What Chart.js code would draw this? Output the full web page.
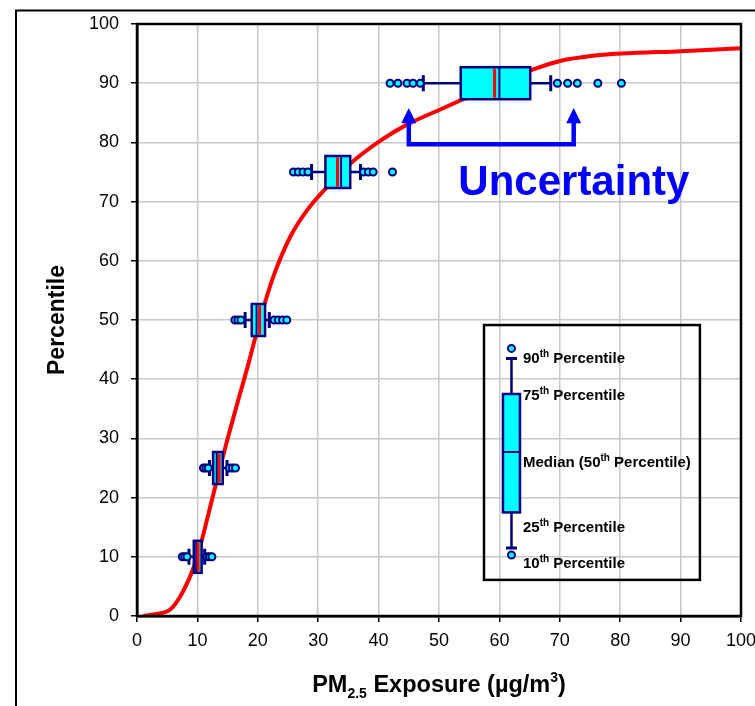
<!DOCTYPE html>
<html><head><meta charset="utf-8">
<script src="https://cdn.jsdelivr.net/npm/chart.js@4.4.1/dist/chart.umd.min.js"></script>
<style>html,body{margin:0;padding:0;background:#fff;}#wrap{width:755px;height:706px;position:relative;}canvas{display:block;}</style>
</head><body><div id="wrap"><canvas id="c" width="755" height="706" style="width:755px;height:706px"></canvas></div>
<script>
// ---------- data ----------
const xTickValues = [0,10,20,30,40,50,60,70,80,90,100];
const yTickValues = [0,10,20,30,40,50,60,70,80,90,100];

// red cumulative curve (PM2.5 exposure vs percentile)
const curveX = [1, 3, 5.5, 7.1, 9.0, 10.0, 12.7, 14.6, 16.8, 18.5, 20.3, 22.6, 25.4, 28.2, 31.5, 35.3, 40.3, 44.7, 50.3, 54.0, 59.5, 65.5, 70.2, 75.2, 80.2, 90.1, 100];
const curveY = [0, 0.3, 1.1, 3.2, 7.2, 10.1, 20.8, 28.4, 36.6, 42.8, 49.8, 57.4, 64.1, 68.6, 72.5, 76.4, 80.3, 83.0, 85.6, 87.3, 89.9, 92.3, 93.8, 94.6, 95.0, 95.4, 95.9];

// uncertainty box plots at each percentile
const percentiles  = [10, 25, 50, 75, 90];
const whiskerLow   = [8.6, 12.0, 17.9, 28.9, 47.4];
const q1           = [9.4, 12.6, 19.0, 31.2, 53.6];
const boxMid       = [9.8, 13.2, 19.8, 33.8, 60.0];
const medianRed    = [10.1, 13.6, 20.3, 33.2, 59.2];
const q3           = [10.7, 14.2, 21.2, 35.3, 65.1];
const whiskerHigh  = [11.2, 14.9, 21.9, 37.0, 68.5];
const outliersLow  = [[7.5, 7.9, 8.3], [11.0, 11.4, 11.8], [16.2, 16.7, 17.2], [25.9, 26.7, 27.5, 28.3], [41.9, 43.2, 44.7, 45.7, 46.9]];
const outliersHigh = [[11.6, 12.0, 12.4], [15.3, 15.8, 16.3], [22.7, 23.4, 24.1, 24.8], [37.5, 38.3, 39.1, 42.3], [69.6, 71.3, 72.9, 76.3, 80.2]];

// key (legend) box plot
const keyX = 62.0;
const keyStats = [11.5, 17.5, 27.7, 37.5, 43.5]; // low whisker, q1, median, q3, high whisker
const keyOutliers = [10.3, 45.2];
const keyLabels = [
  {pre: '90', sup: 'th', post: ' Percentile', y: 42.7},
  {pre: '75', sup: 'th', post: ' Percentile', y: 36.5},
  {pre: 'Median (50', sup: 'th', post: ' Percentile)', y: 25.2},
  {pre: '25', sup: 'th', post: ' Percentile', y: 14.2},
  {pre: '10', sup: 'th', post: ' Percentile', y: 8.1}
];
const keyFrame = {x0: 57.45, x1: 93.2, y0: 6.1, y1: 49.15};

// uncertainty bracket annotation
const bracketX = [45.0, 72.3];
const bracketY = 79.7, bracketTop = 83.4, bracketTip = 85.8;
const uncertaintyLabel = {text: 'Uncertainty', x: 53.2, y: 71.1};

// ---------- styles ----------
const FONT = '"Liberation Sans", Arial, Helvetica, sans-serif';
const NAVY = '#000080', CYAN = '#00FFFF', RED = '#FF0000', BLUE = '#0000FF';

const outlierPts = [];
percentiles.forEach((p, i) => {
  outliersLow[i].forEach(v => outlierPts.push({x: v, y: p}));
  outliersHigh[i].forEach(v => outlierPts.push({x: v, y: p}));
});
const keyOutlierPts = keyOutliers.map(v => ({x: keyX, y: v}));
const curvePts = curveX.map((x, i) => ({x, y: curveY[i]}));

function richText(ctx, parts, x, y, align) {
  let total = 0;
  parts.forEach(p => { ctx.font = 'bold ' + p.size + 'px ' + FONT; p.w = ctx.measureText(p.t).width; total += p.w; });
  let cx = align === 'center' ? x - total / 2 : x;
  ctx.textAlign = 'left';
  ctx.textBaseline = 'alphabetic';
  parts.forEach(p => { ctx.font = 'bold ' + p.size + 'px ' + FONT; ctx.fillText(p.t, cx, y + (p.dy || 0)); cx += p.w; });
}

const drawPlugin = {
  id: 'drawExtras',
  beforeDraw(chart) {
    const ctx = chart.ctx;
    ctx.save();
    ctx.fillStyle = '#fff';
    ctx.fillRect(0, 0, chart.width, chart.height);
    ctx.strokeStyle = '#000';
    ctx.lineWidth = 2;
    ctx.strokeRect(16, 10.5, 800, 800);
    ctx.restore();
  },
  afterDatasetDraw(chart, args) {
    if (args.index !== 2) return;
    const ctx = chart.ctx;
    const sx = chart.scales.x, sy = chart.scales.y;
    const px = v => sx.getPixelForValue(v), py = v => sy.getPixelForValue(v);
    ctx.save();
    percentiles.forEach((p, i) => {
      const yc = py(p), h = 16;
      ctx.strokeStyle = NAVY; ctx.lineWidth = 2.5; ctx.lineCap = 'butt';
      ctx.beginPath();
      ctx.moveTo(px(whiskerLow[i]), yc); ctx.lineTo(px(q1[i]), yc);
      ctx.moveTo(px(q3[i]), yc); ctx.lineTo(px(whiskerHigh[i]), yc);
      ctx.stroke();
      ctx.lineWidth = 3;
      ctx.beginPath();
      ctx.moveTo(px(whiskerLow[i]), yc - 8); ctx.lineTo(px(whiskerLow[i]), yc + 8);
      ctx.moveTo(px(whiskerHigh[i]), yc - 8); ctx.lineTo(px(whiskerHigh[i]), yc + 8);
      ctx.stroke();
      const x0 = px(q1[i]), x1 = px(q3[i]);
      ctx.fillStyle = CYAN;
      ctx.fillRect(x0, yc - h, x1 - x0, 2 * h);
      ctx.lineWidth = 2.5; ctx.strokeStyle = NAVY;
      ctx.strokeRect(x0, yc - h, x1 - x0, 2 * h);
      ctx.lineWidth = 2;
      ctx.beginPath(); ctx.moveTo(px(boxMid[i]), yc - h); ctx.lineTo(px(boxMid[i]), yc + h); ctx.stroke();
      ctx.strokeStyle = RED; ctx.lineWidth = 3;
      ctx.beginPath(); ctx.moveTo(px(medianRed[i]), yc - h + 1.5); ctx.lineTo(px(medianRed[i]), yc + h - 1.5); ctx.stroke();
    });
    ctx.strokeStyle = '#000'; ctx.lineWidth = 2.5;
    ctx.strokeRect(px(keyFrame.x0), py(keyFrame.y1), px(keyFrame.x1) - px(keyFrame.x0), py(keyFrame.y0) - py(keyFrame.y1));
    const kx = px(keyX), bw = 8.5, cw = 5.5;
    ctx.strokeStyle = NAVY; ctx.lineWidth = 2.5;
    ctx.beginPath();
    ctx.moveTo(kx, py(keyStats[0])); ctx.lineTo(kx, py(keyStats[1]));
    ctx.moveTo(kx, py(keyStats[3])); ctx.lineTo(kx, py(keyStats[4]));
    ctx.stroke();
    ctx.lineWidth = 3;
    ctx.beginPath();
    ctx.moveTo(kx - cw, py(keyStats[0])); ctx.lineTo(kx + cw, py(keyStats[0]));
    ctx.moveTo(kx - cw, py(keyStats[4])); ctx.lineTo(kx + cw, py(keyStats[4]));
    ctx.stroke();
    ctx.fillStyle = CYAN;
    const ky0 = py(keyStats[3]), ky1 = py(keyStats[1]);
    ctx.fillRect(kx - bw, ky0, 2 * bw, ky1 - ky0);
    ctx.lineWidth = 2.5;
    ctx.strokeRect(kx - bw, ky0, 2 * bw, ky1 - ky0);
    ctx.lineWidth = 2;
    ctx.beginPath(); ctx.moveTo(kx - bw, py(keyStats[2])); ctx.lineTo(kx + bw, py(keyStats[2])); ctx.stroke();
    ctx.fillStyle = '#000';
    keyLabels.forEach(l => {
      richText(ctx, [{t: l.pre, size: 15}, {t: l.sup, size: 10, dy: -6}, {t: l.post, size: 15}], kx + 11.5, py(l.y), 'left');
    });
    ctx.strokeStyle = BLUE; ctx.fillStyle = BLUE; ctx.lineWidth = 4.5; ctx.lineJoin = 'miter';
    ctx.beginPath();
    ctx.moveTo(px(bracketX[0]), py(bracketTop));
    ctx.lineTo(px(bracketX[0]), py(bracketY));
    ctx.lineTo(px(bracketX[1]), py(bracketY));
    ctx.lineTo(px(bracketX[1]), py(bracketTop));
    ctx.stroke();
    bracketX.forEach(bx => {
      const xx = px(bx);
      ctx.beginPath();
      ctx.moveTo(xx, py(bracketTip));
      ctx.lineTo(xx - 7.5, py(bracketTop) + 1);
      ctx.lineTo(xx + 7.5, py(bracketTop) + 1);
      ctx.closePath(); ctx.fill();
    });
    ctx.font = 'bold 42px ' + FONT;
    ctx.textAlign = 'left'; ctx.textBaseline = 'alphabetic';
    ctx.fillText(uncertaintyLabel.text, px(uncertaintyLabel.x), py(uncertaintyLabel.y));
    ctx.restore();
  },
  afterDraw(chart) {
    const ctx = chart.ctx, a = chart.chartArea;
    ctx.save();
    ctx.strokeStyle = '#000'; ctx.lineWidth = 2.5;
    ctx.strokeRect(a.left, a.top, a.right - a.left, a.bottom - a.top);
    ctx.fillStyle = '#000';
    ctx.save();
    ctx.translate(58, (a.top + a.bottom) / 2);
    ctx.rotate(-Math.PI / 2);
    ctx.font = 'bold 23px ' + FONT; ctx.textAlign = 'center'; ctx.textBaseline = 'middle';
    ctx.fillText('Percentile', 0, 0);
    ctx.restore();
    richText(ctx, [
      {t: 'PM', size: 23.5}, {t: '2.5', size: 14, dy: 6}, {t: ' Exposure (µg/m', size: 23.5},
      {t: '3', size: 14, dy: -10}, {t: ')', size: 23.5}
    ], (a.left + a.right) / 2, 692, 'center');
    ctx.restore();
  }
};

new Chart(document.getElementById('c'), {
  type: 'scatter',
  data: {
    datasets: [
      {label: 'outliers', data: outlierPts, pointRadius: 3.5, pointHoverRadius: 3.5, pointBackgroundColor: CYAN, pointBorderColor: NAVY, pointBorderWidth: 2, showLine: false},
      {label: 'key outliers', data: keyOutlierPts, pointRadius: 3.5, pointHoverRadius: 3.5, pointBackgroundColor: CYAN, pointBorderColor: NAVY, pointBorderWidth: 2, showLine: false},
      {label: 'curve', data: curvePts, showLine: true, borderColor: RED, borderWidth: 4, pointRadius: 0, cubicInterpolationMode: 'monotone', fill: false}
    ]
  },
  options: {
    responsive: false,
    maintainAspectRatio: false,
    animation: false,
    devicePixelRatio: 1,
    layout: {padding: {left: 15, top: 24, right: 14, bottom: 0}},
    plugins: {legend: {display: false}, tooltip: {enabled: false}},
    events: [],
    scales: {
      x: {
        type: 'linear', min: 0, max: 100,
        afterBuildTicks: s => { s.ticks = xTickValues.map(v => ({value: v})); },
        afterFit: s => { s.height = 90; s.paddingLeft = 0; s.paddingRight = 0; },
        grid: {color: '#c8c8c8', lineWidth: 1.5, tickColor: '#000', tickLength: 6, tickWidth: 1.5},
        border: {display: true, color: '#000', width: 2.5},
        ticks: {color: '#000', font: {family: FONT, size: 18}, padding: 8, maxRotation: 0, autoSkip: false}
      },
      y: {
        type: 'linear', min: 0, max: 100,
        afterBuildTicks: s => { s.ticks = yTickValues.map(v => ({value: v})); },
        afterFit: s => { s.width = 122; s.paddingTop = 0; s.paddingBottom = 0; },
        grid: {color: '#c8c8c8', lineWidth: 1.5, tickColor: '#000', tickLength: 6, tickWidth: 1.5},
        border: {display: true, color: '#000', width: 2.5},
        ticks: {color: '#000', font: {family: FONT, size: 18}, padding: 12, autoSkip: false}
      }
    }
  },
  plugins: [drawPlugin]
});
</script></body></html>
